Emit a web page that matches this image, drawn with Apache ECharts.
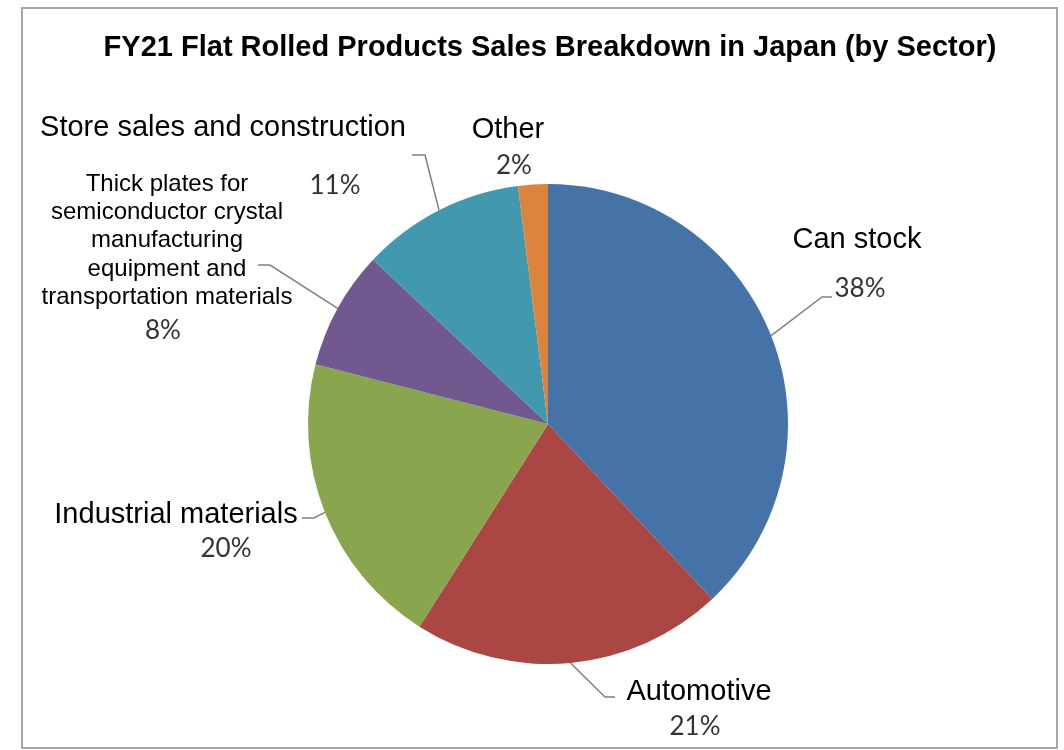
<!DOCTYPE html>
<html><head><meta charset="utf-8">
<script src="https://cdn.jsdelivr.net/npm/echarts@6/dist/echarts.min.js"></script>
<style>html,body{margin:0;padding:0;background:#fff}#c{width:1064px;height:750px}</style>
</head><body><div id="c"></div>
<script>
// ---- data ----
const categories = ["Can stock", "Automotive", "Industrial materials",
  "Thick plates for\nsemiconductor crystal\nmanufacturing\nequipment and\ntransportation materials",
  "Store sales and construction", "Other"];
const shares = [38, 21, 20, 8, 11, 2];
const colors = ["#4572A7", "#AA4643", "#89A54E", "#71588F", "#4198AF", "#DB843D"];

// ---- label layout (annotation placement) ----
const labelPlace = [
  {nx: 857, ny: 240, px: 860, py: 289, fs: 29, lh: 30, line: [[822, 297], [832, 297]]},
  {nx: 699, ny: 692, px: 695, py: 727, fs: 29, lh: 30, line: [[605, 697], [615, 697]]},
  {nx: 176, ny: 515, px: 226, py: 549, fs: 29, lh: 30, line: [[314, 518], [302, 518]]},
  {nx: 167, ny: 184, px: 163, py: 331, fs: 24, lh: 28.3, line: [[270, 265], [258, 265]]},
  {nx: 223, ny: 128, px: 335, py: 186, fs: 29, lh: 30, line: [[425, 155], [412, 155]]},
  {nx: 508, ny: 130, px: 514, py: 166, fs: 29, lh: 30, line: null}
];

const data = categories.map((name, i) => {
  const p = labelPlace[i];
  const lines = name.split("\n");
  const top = p.ny - p.lh / 2;
  const after = top + p.lh * lines.length;
  const H = 2 * (p.py - after);
  const dx = p.px - p.nx;
  const pad = dx >= 0 ? [0, 0, 0, 2 * dx] : [0, -2 * dx, 0, 0];
  return {
    name: name,
    value: shares[i],
    itemStyle: {color: colors[i]},
    label: {
      formatter: lines.map(l => "{n|" + l + "}").join("\n") + "\n{p|" + shares[i] + "%}",
      rich: {
        n: {fontFamily: "Liberation Sans, Arial", fontSize: p.fs, lineHeight: p.lh, color: "#000", align: "center"},
        p: {fontFamily: "Lato, Open Sans", fontSize: 26, lineHeight: H, color: "#333", align: "center", padding: pad}
      }
    },
    labelLine: {show: !!p.line}
  };
});

const chart = echarts.init(document.getElementById("c"), null, {renderer: "canvas"});
chart.setOption({
  animation: false,
  backgroundColor: "#fff",
  title: {
    text: "FY21 Flat Rolled Products Sales Breakdown in Japan (by Sector)",
    left: 545, top: 28, textAlign: "center",
    textStyle: {fontFamily: "Liberation Sans, Arial", fontWeight: "bold", fontSize: 29, color: "#000"}
  },
  graphic: [{
    type: "rect", shape: {x: 22, y: 8, width: 1035, height: 740},
    style: {fill: "none", stroke: "#a6a6a6", lineWidth: 2}, z: -1
  }],
  series: [{
    type: "pie",
    center: [548, 424],
    radius: [0, 240],
    startAngle: 90,
    clockwise: true,
    avoidLabelOverlap: false,
    itemStyle: {borderWidth: 0},
    label: {show: true, position: "outside"},
    labelLine: {show: true, length: 10, length2: 10, lineStyle: {color: "#7f7f7f", width: 1.5}},
    labelLayout: function (params) {
      const p = labelPlace[params.dataIndex];
      const res = {x: p.nx, y: p.ny - p.lh / 2, align: "center", verticalAlign: "top"};
      if (p.line && params.labelLinePoints) {
        res.labelLinePoints = [params.labelLinePoints[0], p.line[0], p.line[1]];
      }
      return res;
    },
    data: data
  }]
});
</script></body></html>
